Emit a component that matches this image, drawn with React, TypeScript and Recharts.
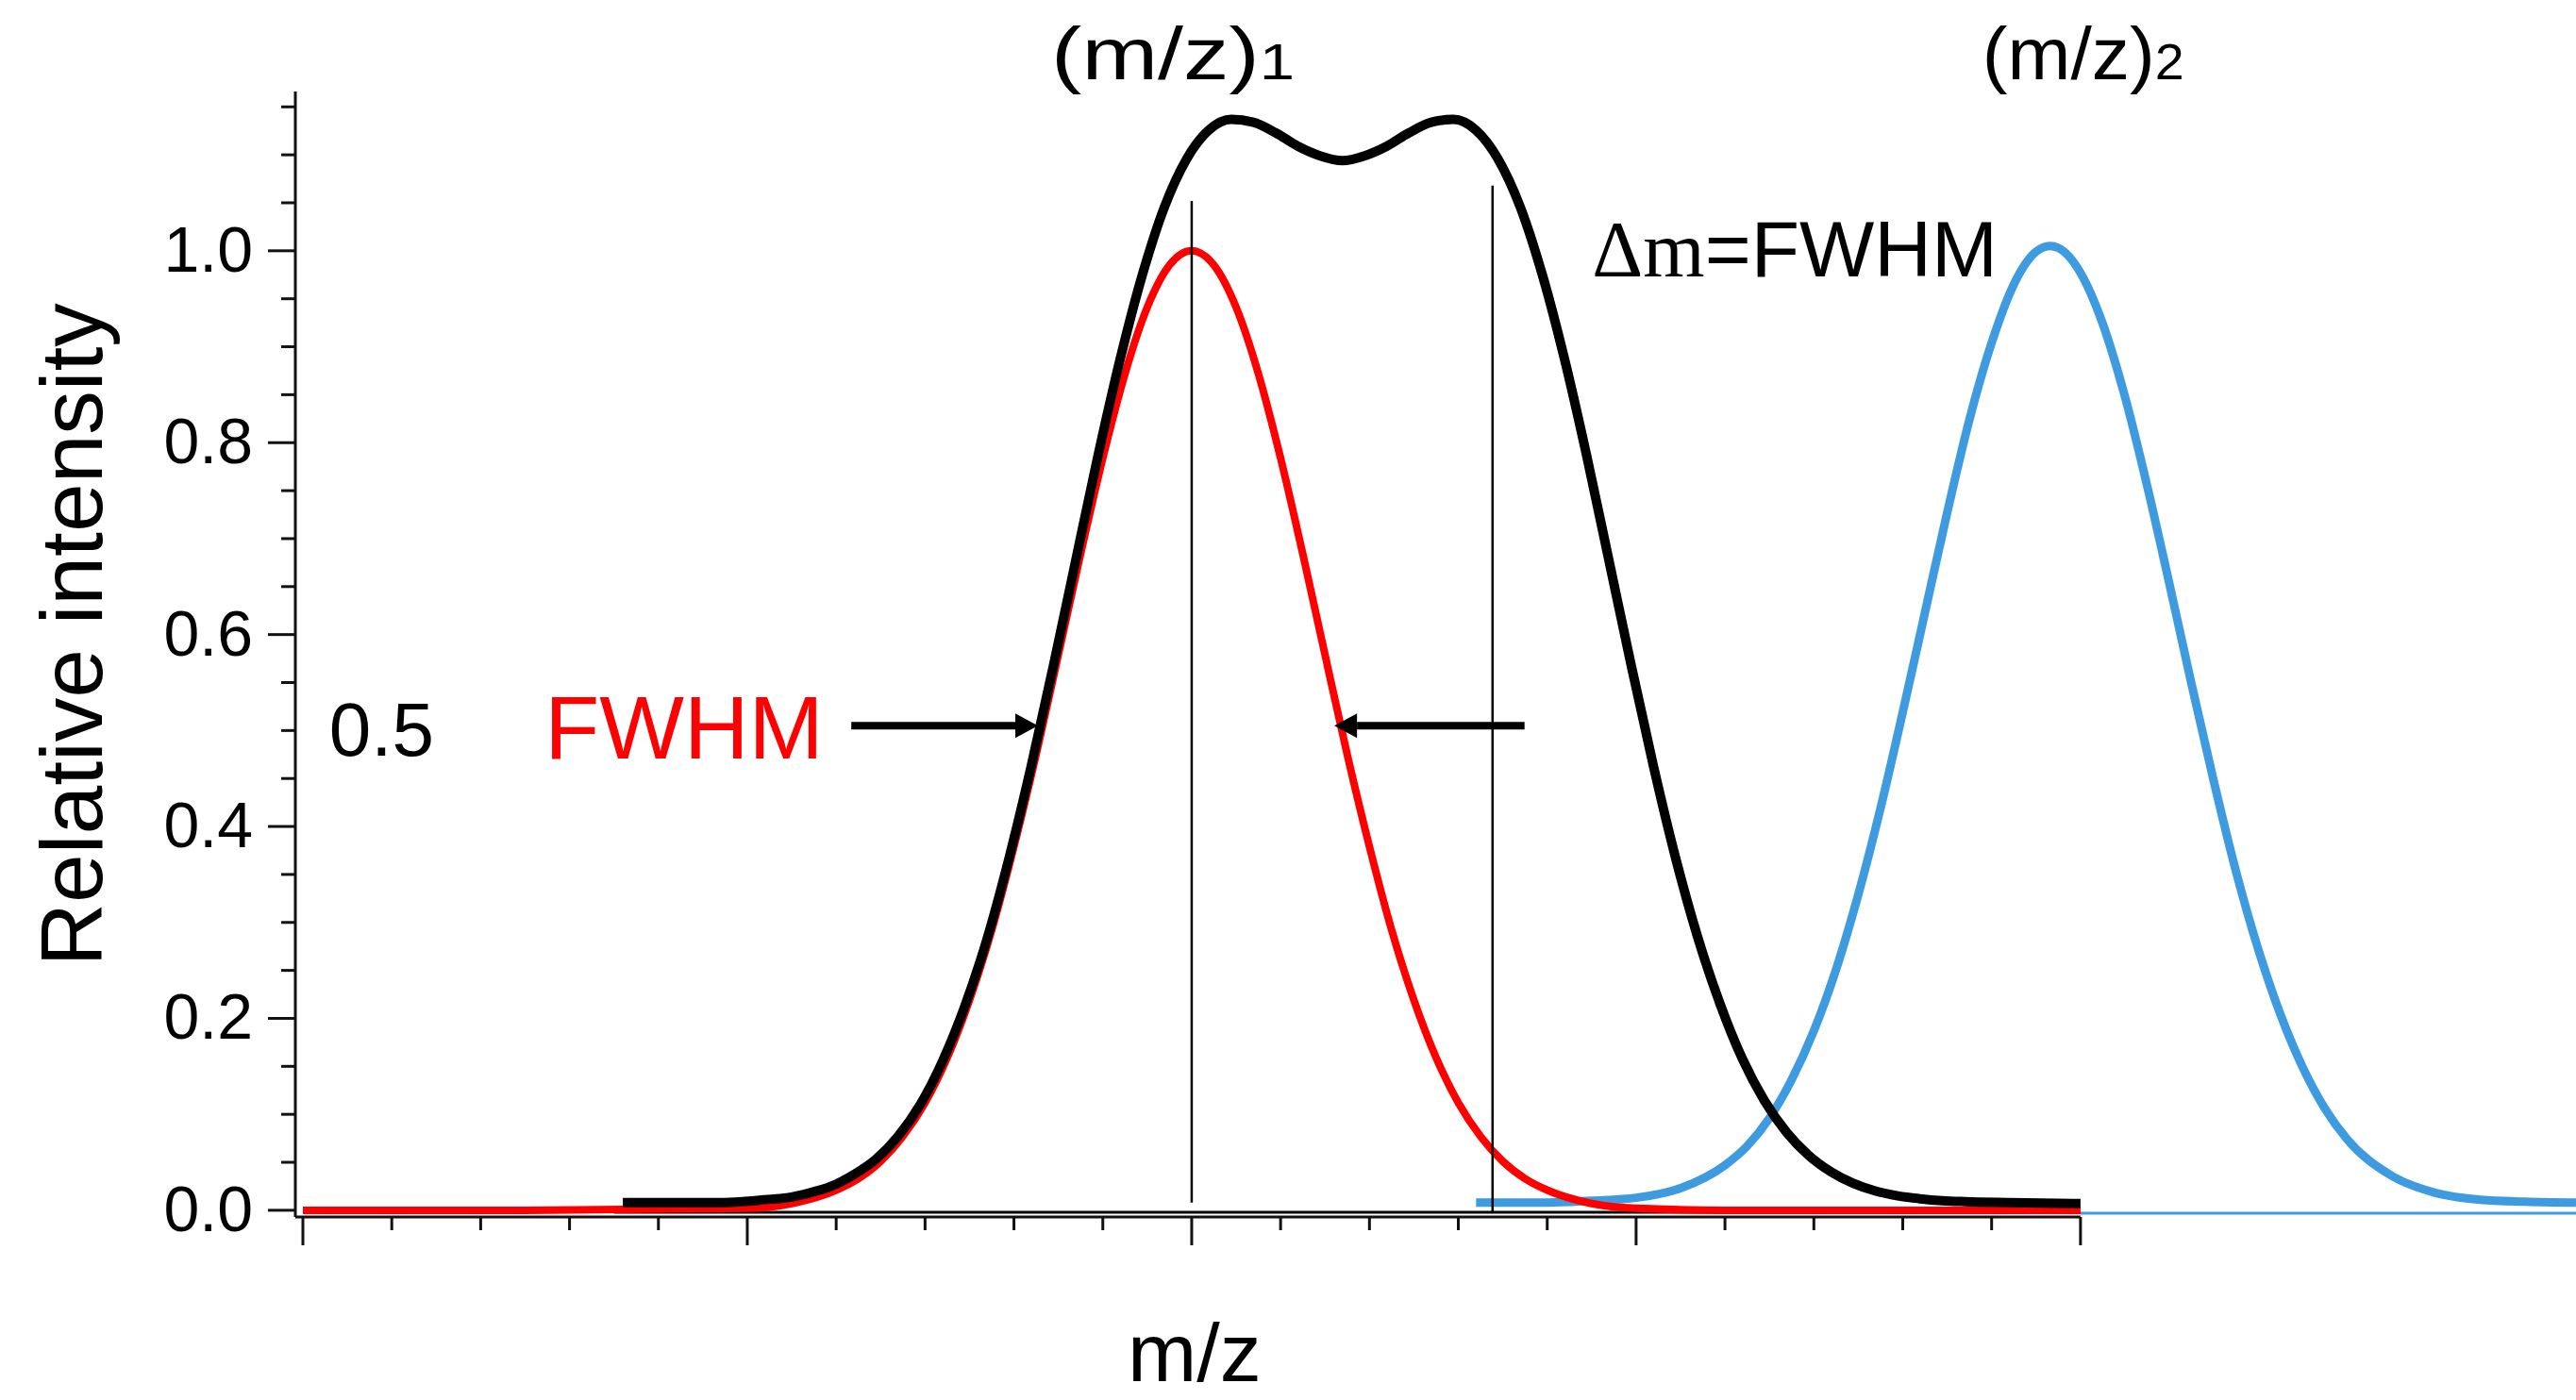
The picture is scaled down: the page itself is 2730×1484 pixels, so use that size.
import { LineChart, Line, XAxis, YAxis, ReferenceLine, ReferenceDot } from "recharts";

const FONT = '"Liberation Sans", Arial, Helvetica, sans-serif';
const SERIF = '"Liberation Serif", "Times New Roman", serif';

// peak profiles: [m/z position (axis units), relative intensity]
const redPeak: [number, number][] = [
  [0, 0], [0.5, 0], [1.0, 0.002], [1.1, 0.007], [1.2, 0.021], [1.25, 0.033], [1.3, 0.051],
  [1.35, 0.077], [1.4, 0.112], [1.45, 0.159], [1.5, 0.219], [1.55, 0.292], [1.6, 0.379],
  [1.65, 0.475], [1.7, 0.579], [1.75, 0.684], [1.8, 0.784], [1.85, 0.872], [1.9, 0.941],
  [1.95, 0.985], [2.0, 1.0], [2.05, 0.985], [2.1, 0.941], [2.15, 0.872], [2.2, 0.784],
  [2.25, 0.684], [2.3, 0.579], [2.35, 0.475], [2.4, 0.379], [2.45, 0.292], [2.5, 0.219],
  [2.55, 0.159], [2.6, 0.112], [2.65, 0.077], [2.7, 0.051], [2.75, 0.033], [2.8, 0.021],
  [2.9, 0.007], [3.0, 0.002], [3.2, 0], [4.0, 0],
];

// unresolved envelope of the two neighbouring peaks
const blackEnvelope: [number, number][] = [
  [0.72, 0.008], [0.939, 0.008], [0.989, 0.009], [1.039, 0.011], [1.089, 0.013], [1.139, 0.018],
  [1.189, 0.025], [1.239, 0.037], [1.289, 0.053], [1.339, 0.077], [1.389, 0.11], [1.439, 0.155],
  [1.489, 0.212], [1.539, 0.282], [1.589, 0.367], [1.639, 0.463], [1.689, 0.568], [1.739, 0.677],
  [1.789, 0.786], [1.839, 0.887], [1.889, 0.975], [1.939, 1.046], [1.989, 1.096], [2.039, 1.126],
  [2.089, 1.137], [2.139, 1.134], [2.189, 1.123], [2.239, 1.109], [2.289, 1.099], [2.339, 1.094],
  [2.389, 1.099], [2.439, 1.109], [2.489, 1.123], [2.539, 1.134], [2.589, 1.137], [2.639, 1.126],
  [2.689, 1.096], [2.739, 1.046], [2.789, 0.975], [2.839, 0.887], [2.889, 0.786], [2.939, 0.677],
  [2.989, 0.568], [3.039, 0.463], [3.089, 0.367], [3.139, 0.284], [3.189, 0.215], [3.239, 0.158],
  [3.289, 0.114], [3.339, 0.081], [3.389, 0.057], [3.439, 0.04], [3.489, 0.028], [3.539, 0.02],
  [3.589, 0.015], [3.639, 0.012], [3.689, 0.01], [3.739, 0.009], [3.839, 0.008], [4.0, 0.007],
];

const bluePeak: [number, number][] = [
  [2.64, 0.008], [2.8, 0.008], [2.9, 0.01], [3.0, 0.013], [3.1, 0.023], [3.2, 0.047],
  [3.25, 0.067], [3.3, 0.096], [3.35, 0.136], [3.4, 0.187], [3.45, 0.251], [3.5, 0.329],
  [3.55, 0.419], [3.6, 0.519], [3.65, 0.623], [3.7, 0.727], [3.75, 0.824], [3.8, 0.904],
  [3.85, 0.965], [3.9, 0.999], [3.932, 1.005], [3.95, 1.003], [4.0, 0.977], [4.05, 0.924],
  [4.1, 0.848], [4.15, 0.755], [4.2, 0.653], [4.25, 0.548], [4.3, 0.447], [4.35, 0.353],
  [4.4, 0.272], [4.45, 0.204], [4.5, 0.149], [4.55, 0.106], [4.6, 0.074], [4.7, 0.036],
  [4.8, 0.018], [4.9, 0.011], [5.0, 0.009], [5.115, 0.008],
];

const xTicks = [0, 0.2, 0.4, 0.6, 0.8, 1, 1.2, 1.4, 1.6, 1.8, 2, 2.2, 2.4, 2.6, 2.8, 3, 3.2, 3.4, 3.6, 3.8, 4];
const yTicks = [0, 0.05, 0.1, 0.15, 0.2, 0.25, 0.3, 0.35, 0.4, 0.45, 0.5, 0.55, 0.6, 0.65, 0.7, 0.75, 0.8, 0.85, 0.9, 0.95, 1, 1.05, 1.1, 1.15];
const yMajor = ["0.0", "0.2", "0.4", "0.6", "0.8", "1.0"];

const toPoints = (rows: [number, number][]) => rows.map(([x, y]) => ({ x, y }));

function XTick({ x, y, payload }: any) {
  const major = Math.abs(payload.value - Math.round(payload.value)) < 1e-6;
  return <line x1={x} y1={y} x2={x} y2={y + (major ? 30 : 14)} stroke="#111" strokeWidth={3} />;
}

function YTick({ x, y, payload }: any) {
  const v = payload.value;
  const label = yMajor.find((s) => Math.abs(parseFloat(s) - v) < 1e-6);
  return (
    <g>
      <line x1={x} y1={y} x2={x - (label ? 29 : 15)} y2={y} stroke="#111" strokeWidth={3} />
      {label && (
        <text x={x - 45} y={y + 22} textAnchor="end" fontSize={68} fontFamily={FONT} fill="#000">
          {label}
        </text>
      )}
    </g>
  );
}

function arrow(p: any) {
  const { x1, y1, x2, y2 } = p;
  const dir = Math.sign(x2 - x1);
  const bx = x2 - dir * 24;
  return (
    <g>
      <line x1={x1} y1={y1} x2={bx} y2={y2} stroke="#000" strokeWidth={8} />
      <polygon points={`${x2},${y2} ${bx},${y2 - 13} ${bx},${y2 + 13}`} fill="#000" />
    </g>
  );
}

export default function App() {
  return (
    <div style={{ position: "absolute", left: 0, top: 0, background: "#fff" }}>
      <LineChart width={2730} height={1484} margin={{ top: 97, right: 0, bottom: 134, left: 113 }}>
        <XAxis
          type="number"
          dataKey="x"
          domain={[-0.017, 5.115]}
          allowDataOverflow
          ticks={xTicks}
          interval={0}
          tick={<XTick />}
          tickSize={0}
          tickMargin={0}
          tickLine={false}
          axisLine={false}
          height={60}
        />
        <YAxis
          type="number"
          dataKey="y"
          domain={[-0.007, 1.166]}
          allowDataOverflow
          ticks={yTicks}
          interval={0}
          tick={<YTick />}
          tickSize={0}
          tickMargin={0}
          tickLine={false}
          axisLine={{ stroke: "#111", strokeWidth: 3 }}
          width={200}
        />

        {/* base lines of the pasted traces and the m/z axis */}
        <ReferenceLine segment={[{ x: 0.7, y: -0.002 }, { x: 4.0, y: -0.002 }]} stroke="#000" strokeWidth={3} />
        <ReferenceLine segment={[{ x: 4.0, y: -0.003 }, { x: 5.115, y: -0.003 }]} stroke="#3f9be0" strokeWidth={3} />
        <ReferenceLine segment={[{ x: -0.017, y: -0.007 }, { x: 4.0, y: -0.007 }]} stroke="#111" strokeWidth={3} />

        <Line data={toPoints(bluePeak)} dataKey="y" type="monotone" stroke="#3f9be0" strokeWidth={9} dot={false} isAnimationActive={false} />
        <Line data={toPoints(redPeak)} dataKey="y" type="monotone" stroke="#ff0000" strokeWidth={8} dot={false} isAnimationActive={false} />
        <Line data={toPoints(blackEnvelope)} dataKey="y" type="monotone" stroke="#000" strokeWidth={10} dot={false} isAnimationActive={false} />

        {/* peak centre markers */}
        <ReferenceLine segment={[{ x: 2.0, y: 0.008 }, { x: 2.0, y: 1.052 }]} stroke="#000" strokeWidth={2.5} />
        <ReferenceLine segment={[{ x: 2.677, y: -0.002 }, { x: 2.677, y: 1.068 }]} stroke="#000" strokeWidth={2.5} />

        {/* FWHM arrows at half height */}
        <ReferenceLine segment={[{ x: 1.234, y: 0.505 }, { x: 1.654, y: 0.505 }]} shape={arrow} />
        <ReferenceLine segment={[{ x: 2.749, y: 0.505 }, { x: 2.321, y: 0.505 }]} shape={arrow} />

        <ReferenceDot
          x={1.684}
          y={1.179}
          r={0}
          ifOverflow="visible"
          shape={(p: any) => (
            <text x={p.cx} y={p.cy} fontSize={78} fontFamily={FONT} fill="#000" textLength={258} lengthAdjust="spacingAndGlyphs">
              (m/z)<tspan fontSize={54}>1</tspan>
            </text>
          )}
        />
        <ReferenceDot
          x={3.779}
          y={1.179}
          r={0}
          ifOverflow="visible"
          shape={(p: any) => (
            <text x={p.cx} y={p.cy} fontSize={78} fontFamily={FONT} fill="#000" textLength={214} lengthAdjust="spacingAndGlyphs">
              (m/z)<tspan fontSize={54}>2</tspan>
            </text>
          )}
        />
        <ReferenceDot
          x={2.901}
          y={0.973}
          r={0}
          ifOverflow="visible"
          shape={(p: any) => (
            <text x={p.cx} y={p.cy} fontSize={84} fontFamily={FONT} fill="#000">
              <tspan fontFamily={SERIF}>Δm</tspan>=FWHM
            </text>
          )}
        />
        <ReferenceDot
          x={0.059}
          y={0.474}
          r={0}
          ifOverflow="visible"
          shape={(p: any) => (
            <text x={p.cx} y={p.cy} fontSize={80} fontFamily={FONT} fill="#000">
              0.5
            </text>
          )}
        />
        <ReferenceDot
          x={0.544}
          y={0.471}
          r={0}
          ifOverflow="visible"
          shape={(p: any) => (
            <text x={p.cx} y={p.cy} fontSize={95} fontFamily={FONT} fill="#ff0000">
              FWHM
            </text>
          )}
        />
        <ReferenceDot
          x={2.006}
          y={-0.178}
          r={0}
          ifOverflow="visible"
          shape={(p: any) => (
            <text x={p.cx} y={p.cy} fontSize={88} fontFamily={FONT} fill="#000" textAnchor="middle">
              m/z
            </text>
          )}
        />
        <ReferenceDot
          x={-0.452}
          y={0.6}
          r={0}
          ifOverflow="visible"
          shape={(p: any) => (
            <text
              x={p.cx}
              y={p.cy}
              fontSize={93}
              fontFamily={FONT}
              fill="#000"
              textAnchor="middle"
              transform={`rotate(-90, ${p.cx}, ${p.cy})`}
            >
              Relative intensity
            </text>
          )}
        />
      </LineChart>
    </div>
  );
}
